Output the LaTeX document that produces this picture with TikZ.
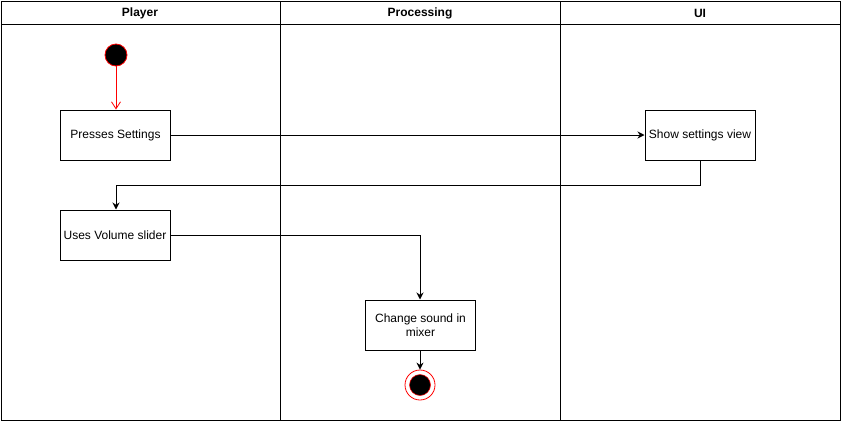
\documentclass[tikz,border=0pt]{standalone}
\usepackage{fontspec}
\setmainfont{Liberation Sans}
\usetikzlibrary{arrows.meta}
\begin{document}
\begin{tikzpicture}[x=1pt,y=-1pt,
  lane/.style={draw=black,line width=1pt},
  act/.style={draw=black,line width=1pt,fill=white,minimum width=110pt,minimum height=50pt,inner sep=2pt,align=center,font=\fontsize{12}{14}\selectfont},
  hdr/.style={font=\fontsize{12}{14}\selectfont\bfseries},
  flow/.style={draw=black,line width=1pt,-{Stealth[length=7pt,width=7pt]}},
  startflow/.style={draw=red,line width=0.8pt,-{Straight Barb[length=7pt,width=9pt]}}
]
\useasboundingbox (0,0) rectangle (841,421);
\fill[white] (0,0) rectangle (841,421);
% lanes
\draw[lane] (1,1) rectangle (840,420);
\draw[lane] (1,24) -- (840,24);
\draw[lane] (280,1) -- (280,420);
\draw[lane] (560,1) -- (560,420);
\node[hdr] (hp) at (140,13) {Player};
\node[hdr] (hq) at (420,13) {Processing};
\node[hdr] (hu) at (700,13) {UI};
% nodes
\node[circle,fill=black,draw=red,line width=0.8pt,minimum size=22pt,inner sep=0pt] (start) at (116,55) {};
\node[act] (press) at (115.5,135) {Presses Settings};
\node[act] (show) at (700,135) {Show settings view};
\node[act] (vol) at (115,235) {Uses Volume slider};
\node[act] (mix) at (420.5,325) {Change sound in\\mixer};
\node[circle,draw=red,line width=0.8pt,fill=white,minimum size=30pt,inner sep=0pt] (end) at (420,385) {};
\node[circle,fill=black,draw=red,line width=0.5pt,minimum size=21pt,inner sep=0pt] (endin) at (420,385) {};
\coordinate (c1) at (700,185);
\coordinate (c2) at (116,185);
\coordinate (c3) at (420,235);
% connectors
\draw[startflow] (start) -- (press.north -| start);
\draw[flow] (press) -- (show);
\draw[flow] (show.south) -- (c1) -- (c2) -- (vol.north -| c2);
\draw[flow] (vol.east) -- (c3) -- (mix.north -| c3);
\draw[flow] (mix.south -| end) -- (end.north);
\end{tikzpicture}
\end{document}
